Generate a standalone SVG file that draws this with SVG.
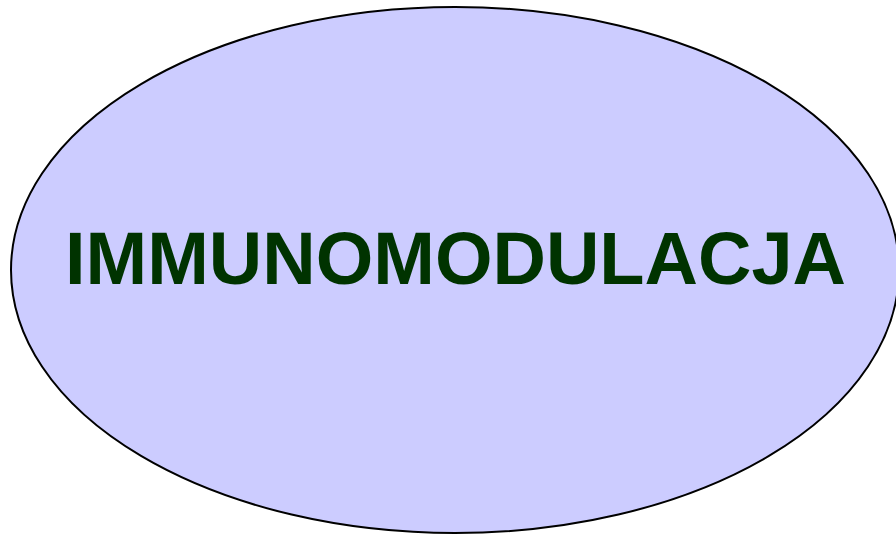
<svg xmlns="http://www.w3.org/2000/svg" width="896" height="536" viewBox="0 0 896 536">
<style>
.lbl{font-family:"Liberation Sans",Arial,sans-serif;font-weight:bold;font-size:74px;fill:#003300}
</style>
<rect width="896" height="536" fill="#ffffff"/>
<g id="immunomodulacja">
<ellipse cx="455" cy="270" rx="444" ry="263" fill="#ccccff" stroke="#000000" stroke-width="2"/>
<text class="lbl" x="455.5" y="284" text-anchor="middle">IMMUNOMODULACJA</text>
</g>
<g id="connectors"/>
</svg>
